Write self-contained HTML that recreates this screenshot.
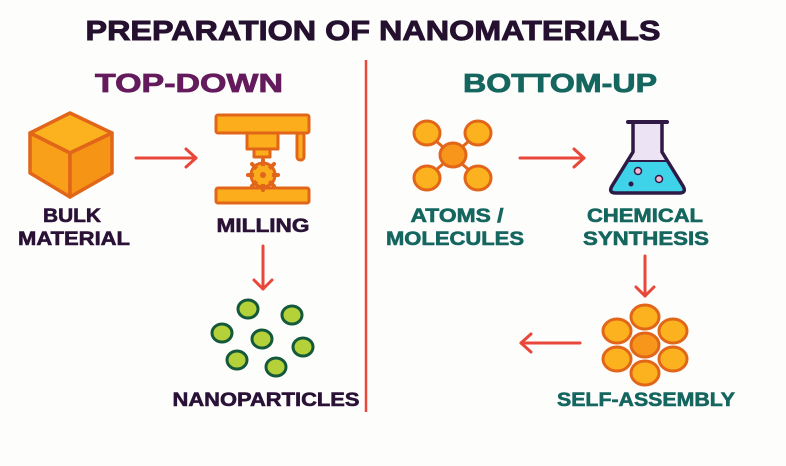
<!DOCTYPE html>
<html><head><meta charset="utf-8"><style>
html,body{margin:0;padding:0;background:#fdfdfc;}
svg{display:block}
text{font-family:"Liberation Sans",sans-serif;font-weight:bold;text-anchor:middle}
</style></head><body>
<svg width="786" height="466" viewBox="0 0 786 466" xmlns="http://www.w3.org/2000/svg">
<rect width="786" height="466" fill="#fdfdfc"/>
<text x="373" y="40" font-size="28" fill="#25102f" stroke="#25102f" stroke-width="0.9" textLength="575" lengthAdjust="spacingAndGlyphs">PREPARATION OF NANOMATERIALS</text>
<text x="189" y="92" font-size="26" fill="#641b5c" stroke="#641b5c" stroke-width="0.8" textLength="188" lengthAdjust="spacingAndGlyphs">TOP-DOWN</text>
<text x="560" y="92" font-size="26" fill="#14665f" stroke="#14665f" stroke-width="0.8" textLength="194" lengthAdjust="spacingAndGlyphs">BOTTOM-UP</text>
<line x1="366" y1="60" x2="366" y2="412" stroke="#e8473a" stroke-width="2.5"/>

<!-- cube -->
<g stroke="#e2661a" stroke-width="3.5" stroke-linejoin="round">
<polygon points="70,113 112,133 70,153 30,133" fill="#fbb21e"/>
<polygon points="30,133 70,153 70,197 30,173" fill="#f8a01a"/>
<polygon points="112,133 70,153 70,197 112,173" fill="#f59415"/>
</g>
<g font-size="19" fill="#2a1236" stroke="#2a1236" stroke-width="0.6">
<text x="72" y="222" textLength="58" lengthAdjust="spacingAndGlyphs">BULK</text>
<text x="74" y="245" textLength="112" lengthAdjust="spacingAndGlyphs">MATERIAL</text>
<text x="263" y="232" textLength="93" lengthAdjust="spacingAndGlyphs">MILLING</text>
<text x="266" y="406" textLength="187" lengthAdjust="spacingAndGlyphs">NANOPARTICLES</text>
</g>

<g stroke="#e8473a" stroke-width="3" fill="none" stroke-linecap="round" stroke-linejoin="round">
<line x1="136" y1="158" x2="196" y2="158"/><polyline points="186,149 196,158 186,167"/>
<line x1="263" y1="246" x2="263" y2="289"/><polyline points="254,280 263,289 272,280"/>
<line x1="520" y1="158" x2="584" y2="158"/><polyline points="574,149 584,158 574,167"/>
<line x1="645" y1="256" x2="645" y2="296"/><polyline points="636,287 645,296 654,287"/>
<line x1="580" y1="343" x2="521" y2="343"/><polyline points="531,334 521,343 531,352"/>
</g>

<!-- milling -->
<g stroke="#e2661a" stroke-width="3" fill="#fbad1c" stroke-linejoin="round">
<rect x="216" y="115" width="93" height="18" rx="2"/>
<rect x="247" y="133" width="31" height="16"/>
<rect x="297" y="133" width="7" height="27" rx="3"/>
<rect x="254" y="149" width="16" height="8"/>
<rect x="216" y="188" width="93" height="15" rx="2"/>
<circle cx="263" cy="175" r="12"/>
</g>
<g stroke="#e2661a" stroke-width="4" stroke-linecap="round">
<line x1="263" y1="160" x2="263" y2="190"/><line x1="248" y1="175" x2="278" y2="175"/>
<line x1="252" y1="164" x2="274" y2="186"/><line x1="274" y1="164" x2="252" y2="186"/>
</g>
<circle cx="263" cy="175" r="9" fill="#fbad1c"/>
<circle cx="263" cy="175" r="3" fill="#e2661a"/>

<!-- nanoparticles -->
<g fill="#b5d13a" stroke="#145a3a" stroke-width="3">
<ellipse cx="248" cy="309" rx="10" ry="9"/><ellipse cx="292" cy="315" rx="10" ry="9"/>
<ellipse cx="222" cy="333" rx="10" ry="9"/><ellipse cx="262" cy="339" rx="10" ry="9"/>
<ellipse cx="303" cy="347" rx="10" ry="9"/><ellipse cx="237" cy="360" rx="10" ry="9"/>
<ellipse cx="276" cy="367" rx="10" ry="9"/>
</g>

<!-- atoms -->
<g stroke="#e2661a" stroke-width="3">
<line x1="427" y1="133" x2="478" y2="178"/><line x1="478" y1="133" x2="427" y2="178"/>
</g>
<g fill="#fbb21e" stroke="#e2661a" stroke-width="3">
<ellipse cx="427" cy="133" rx="13" ry="12"/><ellipse cx="478" cy="133" rx="13" ry="12"/>
<ellipse cx="427" cy="178" rx="13" ry="12"/><ellipse cx="478" cy="178" rx="13" ry="12"/>
<ellipse cx="453" cy="155" rx="13" ry="12" fill="#f7961a"/>
</g>
<g font-size="19" fill="#14665f" stroke="#14665f" stroke-width="0.6">
<text x="457" y="222" textLength="93" lengthAdjust="spacingAndGlyphs">ATOMS /</text>
<text x="455" y="245" textLength="138" lengthAdjust="spacingAndGlyphs">MOLECULES</text>
<text x="645" y="222" textLength="116" lengthAdjust="spacingAndGlyphs">CHEMICAL</text>
<text x="646" y="245" textLength="126" lengthAdjust="spacingAndGlyphs">SYNTHESIS</text>
<text x="646" y="406" textLength="178" lengthAdjust="spacingAndGlyphs">SELF-ASSEMBLY</text>
</g>

<!-- flask -->
<path d="M633,124 L633,152 L612,186 Q608,193 616,193 L679,193 Q687,193 683,186 L662,152 L662,124 Z" fill="#ece3f4"/>
<path d="M627,161 L612,186 Q608,193 616,193 L679,193 Q687,193 683,186 L668,161 Z" fill="#3fd3ea"/>
<path d="M633,124 L633,152 L612,186 Q608,193 616,193 L679,193 Q687,193 683,186 L662,152 L662,124" fill="none" stroke="#2f1a45" stroke-width="3.5" stroke-linejoin="round"/>
<line x1="628" y1="122" x2="667" y2="122" stroke="#2f1a45" stroke-width="4" stroke-linecap="round"/>
<line x1="627" y1="161" x2="668" y2="161" stroke="#2f1a45" stroke-width="2"/>
<circle cx="638" cy="171" r="3.5" fill="#f0b8d0" stroke="#2f1a45" stroke-width="1.5"/>
<circle cx="659" cy="179" r="3.5" fill="#f0b8d0" stroke="#2f1a45" stroke-width="1.5"/>
<circle cx="631" cy="184" r="2.5" fill="#2f1a45"/>

<!-- self assembly -->
<g fill="#fbb21e" stroke="#e2661a" stroke-width="3">
<ellipse cx="645" cy="317" rx="14" ry="12"/><ellipse cx="645" cy="373" rx="14" ry="12"/>
<ellipse cx="617" cy="331" rx="14" ry="12"/><ellipse cx="673" cy="331" rx="14" ry="12"/>
<ellipse cx="617" cy="359" rx="14" ry="12"/><ellipse cx="673" cy="359" rx="14" ry="12"/>
<ellipse cx="645" cy="345" rx="14" ry="12" fill="#f7961a"/>
</g>
</svg>
</body></html>
